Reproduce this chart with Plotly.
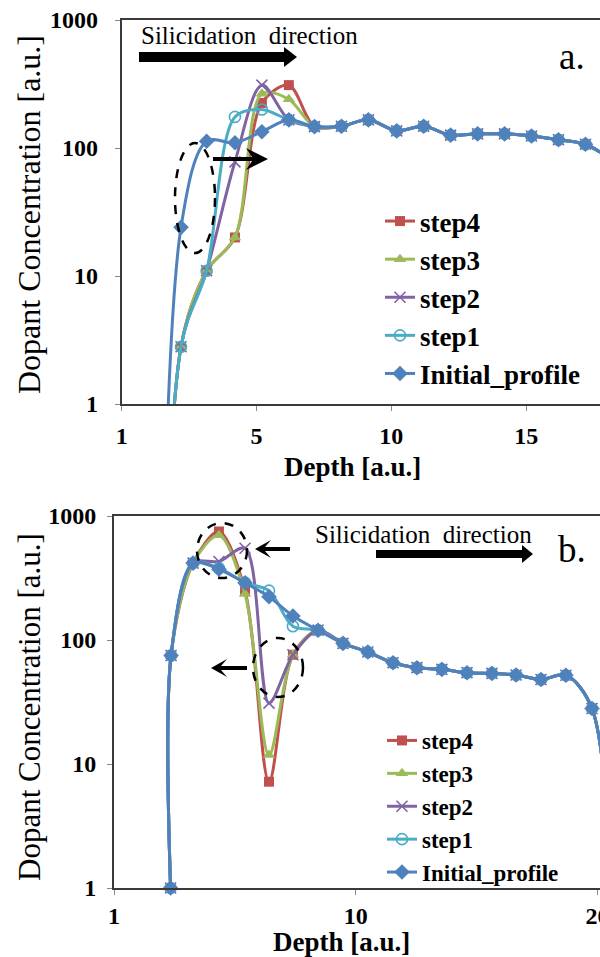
import plotly.graph_objects as go

W, H = 600, 957

# ---------------- data: panel a ----------------
depth_a = [1.2, 2.2, 3.15, 4.2, 5.2, 6.2, 7.15, 8.15, 9.15, 10.2, 11.2, 12.2, 13.2, 14.2, 15.2, 16.2, 17.2, 18.2]
initial_a = [1e-7, 24, 113, 110, 134, 166, 147, 148, 166, 136, 148, 126, 129, 129, 124, 116, 107, 80]
step1_a = [1e-7, 2.8, 11, 175, 200, 166, 147, 148, 166, 136, 148, 126, 129, 129, 124, 116, 107, 80]
step2_a = [1e-7, 2.8, 11, 78, 310, 166, 147, 148, 166, 136, 148, 126, 129, 129, 124, 116, 107, 80]
step3_a = [1e-7, 2.8, 11, 20, 265, 240, 147, 148, 166, 136, 148, 126, 129, 129, 124, 116, 107, 80]
step4_a = [1e-7, 2.8, 11, 20, 225, 310, 147, 148, 166, 136, 148, 126, 129, 129, 124, 116, 107, 80]

# ---------------- data: panel b ----------------
depth_b = [2.34, 2.36, 3.27, 4.34, 5.42, 6.41, 7.4, 8.44, 9.47, 10.5, 11.54, 12.53, 13.56, 14.6, 15.63, 16.63, 17.66, 18.69, 19.77, 20.8]
initial_b = [1, 75, 417, 372, 289, 223, 156, 120, 94, 80, 65.6, 59.8, 58, 54.5, 53.8, 52.2, 48, 52, 28, 0.1]
step1_b = [1, 75, 417, 380, 290, 250, 129, 120, 94, 80, 65.6, 59.8, 58, 54.5, 53.8, 52.2, 48, 52, 28, 0.1]
step2_b = [1, 75, 417, 430, 550, 31, 76, 120, 94, 80, 65.6, 59.8, 58, 54.5, 53.8, 52.2, 48, 52, 28, 0.1]
step3_b = [1, 75, 417, 700, 235, 11.8, 76, 120, 94, 80, 65.6, 59.8, 58, 54.5, 53.8, 52.2, 48, 52, 28, 0.1]
step4_b = [1, 75, 417, 750, 250, 7.2, 76, 120, 94, 80, 65.6, 59.8, 58, 54.5, 53.8, 52.2, 48, 52, 28, 0.1]

series_names = ["step4", "step3", "step2", "step1", "Initial_profile"]
colors = ["#C0504D", "#9BBB59", "#8064A2", "#4BACC6", "#4F81BD"]
symbols = ["square", "triangle-up", "x-thin-open", "circle-open", "diamond"]
sizes = [10, 11, 11, 11, 12]

y_ticks = [1, 10, 100, 1000]
y_ticktext = ["1", "10", "100", "1000"]
xa_tickvals = [0, 5, 10, 15]
xa_ticktext = ["1", "5", "10", "15"]
xb_tickvals = [0, 10, 20]
xb_ticktext = ["1", "10", "20"]

SERIF = "Liberation Serif, Times New Roman, serif"


def px(x):
    return x / W


def py(y):
    return 1 - y / H


fig = go.Figure()

panel_a = [step4_a, step3_a, step2_a, step1_a, initial_a]
panel_b = [step4_b, step3_b, step2_b, step1_b, initial_b]

for i, name in enumerate(series_names):
    mk = dict(symbol=symbols[i], size=sizes[i], color=colors[i],
              line=dict(color=colors[i], width=1.6 if "open" in symbols[i] else 0))
    fig.add_trace(go.Scatter(
        x=depth_a, y=panel_a[i], name=name, mode="lines+markers",
        line=dict(color=colors[i], width=3, shape="spline", smoothing=0.9),
        marker=mk, xaxis="x", yaxis="y", legend="legend", cliponaxis=False))

for i, name in enumerate(series_names):
    mk = dict(symbol=symbols[i], size=sizes[i], color=colors[i],
              line=dict(color=colors[i], width=1.6 if "open" in symbols[i] else 0))
    fig.add_trace(go.Scatter(
        x=depth_b, y=panel_b[i], name=name, mode="lines+markers",
        line=dict(color=colors[i], width=3, shape="spline", smoothing=0.9),
        marker=mk, xaxis="x2", yaxis="y2", legend="legend2", cliponaxis=False))

tickfont = dict(family=SERIF, size=24, color="black", weight="bold")
axis_common = dict(showline=True, linecolor="#3a3a3a", linewidth=2, mirror=True,
                   showgrid=False, zeroline=False, ticks="outside", ticklen=5,
                   tickcolor="#8a8a8a", tickwidth=1, tickfont=tickfont, automargin=False,
                   ticklabeloverflow="allow")

fig.update_layout(
    width=W, height=H,
    margin=dict(l=0, r=0, t=0, b=0, pad=0, autoexpand=False),
    paper_bgcolor="white", plot_bgcolor="white",
    xaxis=dict(domain=[px(121.7), 1], range=[0, 17.74], anchor="y",
               tickvals=xa_tickvals, ticktext=xa_ticktext, ticklabelstandoff=4, **axis_common),
    yaxis=dict(domain=[py(404), py(20)], type="log", range=[0, 3], anchor="x",
               tickvals=y_ticks, ticktext=y_ticktext, ticklabelstandoff=12, **axis_common),
    xaxis2=dict(domain=[px(114), 1], range=[0, 20.1], anchor="y2",
                tickvals=xb_tickvals, ticktext=xb_ticktext, ticklabelstandoff=0, **axis_common),
    yaxis2=dict(domain=[py(888), py(516)], type="log", range=[0, 3], anchor="x2",
                tickvals=y_ticks, ticktext=y_ticktext, ticklabelstandoff=6, **axis_common),
    legend=dict(x=px(380), y=py(197), xanchor="left", yanchor="top",
                bgcolor="rgba(0,0,0,0)", itemwidth=30,
                font=dict(family=SERIF, size=27, color="black", weight="bold")),
    legend2=dict(x=px(382), y=py(719), xanchor="left", yanchor="top",
                 bgcolor="rgba(0,0,0,0)", itemwidth=30,
                 font=dict(family=SERIF, size=23, color="black", weight="bold")),
    showlegend=True,
)

annotations = [
    # axis titles
    dict(text="Dopant Concentration [a.u.]", x=px(29), y=py(215), textangle=-90,
         font=dict(family=SERIF, size=32, color="black")),
    dict(text="Depth [a.u.]", x=px(352), y=py(467),
         font=dict(family=SERIF, size=27, color="black", weight="bold")),
    dict(text="Dopant Concentration [a.u.]", x=px(29), y=py(707), textangle=-90,
         font=dict(family=SERIF, size=31, color="black")),
    dict(text="Depth [a.u.]", x=px(341), y=py(942),
         font=dict(family=SERIF, size=27, color="black", weight="bold")),
    # panel texts
    dict(text="Silicidation&nbsp;&nbsp;direction", x=px(139), y=py(35), xanchor="left",
         font=dict(family=SERIF, size=25, color="black")),
    dict(text="Silicidation&nbsp;&nbsp;direction", x=px(313), y=py(534), xanchor="left",
         font=dict(family=SERIF, size=25, color="black")),
    dict(text="a.", x=px(572), y=py(56), font=dict(family=SERIF, size=37, color="black")),
    dict(text="b.", x=px(572), y=py(549), font=dict(family=SERIF, size=37, color="black")),
]
for a in annotations:
    a.update(xref="paper", yref="paper", showarrow=False, yanchor=a.get("yanchor", "middle"),
             xanchor=a.get("xanchor", "center"))
fig.update_layout(annotations=annotations)


def path(points):
    s = "M " + " L ".join(f"{px(x):.5f},{py(y):.5f}" for x, y in points) + " Z"
    return s


arrows = [
    [(139, 52), (284, 52), (284, 47), (297, 57), (284, 67), (284, 62), (139, 62)],
    [(376, 550), (522, 550), (522, 545), (533, 554), (522, 563), (522, 558), (376, 558)],
    [(213, 157), (252, 157), (246, 148), (268, 159), (246, 170), (252, 161), (213, 161)],
    [(290, 547), (265, 547), (271, 540), (255, 549), (271, 558), (265, 551), (290, 551)],
    [(247, 666), (221, 666), (227, 659), (211, 668), (227, 677), (221, 670), (247, 670)],
]
shapes = []
for pts in arrows:
    shapes.append(dict(type="path", xref="paper", yref="paper", path=path(pts),
                       fillcolor="black", line=dict(color="black", width=0)))

ellipses = [(175, 143, 215, 253), (197, 523, 247, 578), (253, 638, 303, 697)]
for x0, y0, x1, y1 in ellipses:
    shapes.append(dict(type="circle", xref="paper", yref="paper",
                       x0=px(x0), x1=px(x1), y0=py(y1), y1=py(y0),
                       line=dict(color="black", width=2.5, dash="dash")))
fig.update_layout(shapes=shapes)

fig.write_html("out.html", config={"displayModeBar": False},
               post_script="document.body.style.margin='0px';")
